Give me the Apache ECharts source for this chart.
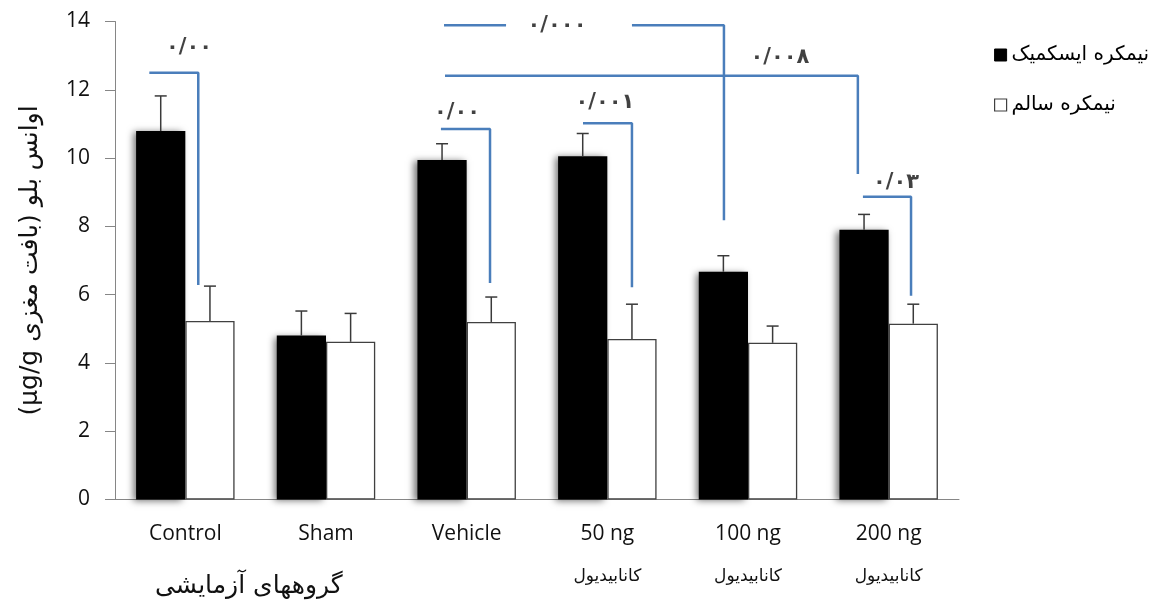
<!DOCTYPE html>
<html>
<head>
<meta charset="utf-8">
<script src="https://cdn.jsdelivr.net/npm/echarts@6/dist/echarts.min.js"></script>
<style>html,body{margin:0;padding:0;background:#fff;}#c{width:1160px;height:604px;}</style>
</head>
<body>
<div id="c"></div>
<script>
const categories = ['Control', 'Sham', 'Vehicle', '50 ng', '100 ng', '200 ng'];
const subLabels = ['', '', '', 'کانابیدیول', 'کانابیدیول', 'کانابیدیول'];
const seriesNames = ['نیمکره ایسکمیک', 'نیمکره سالم'];
const ischemic = [10.79, 4.80, 9.94, 10.05, 6.67, 7.90];
const ischemicErr = [1.03, 0.72, 0.48, 0.67, 0.47, 0.45];
const healthy = [5.23, 4.62, 5.20, 4.70, 4.59, 5.15];
const healthyErr = [1.02, 0.83, 0.73, 1.02, 0.49, 0.57];
const yTicks = [0, 2, 4, 6, 8, 10, 12, 14];
const yAxisTitle = 'اوانس بلو (بافت مغزی µg/g)';
const xAxisTitle = 'گروههای آزمایشی';
// significance brackets, in (category position, value) units
const bracketPaths = [
  [[0.244, 12.50], [0.592, 12.50], [0.592, 6.28]],
  [[2.317, 10.85], [2.666, 10.85], [2.666, 6.34]],
  [[3.327, 11.02], [3.675, 11.02], [3.675, 6.22]],
  [[5.317, 8.87], [5.659, 8.87], [5.659, 5.97]],
  [[2.339, 13.89], [2.780, 13.89]],
  [[3.675, 13.89], [4.329, 13.89], [4.329, 8.18]],
  [[2.346, 12.41], [5.281, 12.41], [5.281, 9.53]]
];
const pLabels = ['۰/۰۰', '۰/۰۰', '۰/۰۰۱', '۰/۰۳', '۰/۰۰۰', '۰/۰۰۸'];
const pLabelPos = [[0.526, 13.25], [2.431, 11.32], [3.483, 11.62], [5.552, 9.27], [3.142, 13.89], [4.727, 12.93]];

const chart = echarts.init(document.getElementById('c'), null, {renderer: 'canvas'});
const LATIN = '"Open Sans", "DejaVu Sans", sans-serif';
const ARABIC = '"DejaVu Sans", sans-serif';

function errSeries(vals, errs, sign) {
  return {
    type: 'custom',
    xAxisIndex: 0, yAxisIndex: 0,
    z: 5,
    silent: true,
    data: vals.map((v, i) => [i, v, v + errs[i]]),
    renderItem: function (params, api) {
      const band = api.size([1, 0])[0];
      const off = sign * 0.175 * band;
      const p0 = api.coord([api.value(0), api.value(1)]);
      const p1 = api.coord([api.value(0), api.value(2)]);
      const x = p0[0] + off;
      const st = {stroke: '#3a3a3a', lineWidth: 1.5};
      return {
        type: 'group',
        children: [
          {type: 'line', shape: {x1: x, y1: p0[1], x2: x, y2: p1[1]}, style: st},
          {type: 'line', shape: {x1: x - 6, y1: p1[1], x2: x + 6, y2: p1[1]}, style: st}
        ]
      };
    }
  };
}

const bracketSeries = bracketPaths.map(p => ({
  type: 'line',
  xAxisIndex: 1, yAxisIndex: 0,
  data: p,
  symbol: 'none',
  silent: true,
  z: 6,
  lineStyle: {color: '#4a7ebb', width: 2.5},
  animation: false
}));

const option = {
  animation: false,
  backgroundColor: '#ffffff',
  grid: {left: 115, right: 201, top: 21.5, bottom: 104.5},
  legend: {
    data: [
      {name: seriesNames[0], icon: 'rect', itemStyle: {color: '#000', borderColor: '#000', borderWidth: 1}},
      {name: seriesNames[1], icon: 'rect', itemStyle: {color: '#fff', borderColor: '#404040', borderWidth: 1.2}}
    ],
    orient: 'vertical',
    left: 989, top: 38,
    itemWidth: 12, itemHeight: 12,
    itemGap: 26,
    textStyle: {fontFamily: ARABIC, fontSize: 20, color: '#000', lineHeight: 24},
    selectedMode: false
  },
  xAxis: [
    {
      type: 'category',
      data: categories,
      axisLine: {lineStyle: {color: '#868686', width: 1}},
      axisTick: {show: false},
      axisLabel: {
        margin: 17,
        formatter: function (v, i) {
          return subLabels[i] ? '{a|' + v + '}\n{b|' + subLabels[i] + '}' : '{a|' + v + '}';
        },
        rich: {
          a: {fontFamily: LATIN, fontSize: 21, color: '#111', lineHeight: 36},
          b: {fontFamily: ARABIC, fontSize: 17, color: '#111', lineHeight: 48}
        }
      }
    },
    {type: 'value', min: 0, max: 6, show: false}
  ],
  yAxis: {
    type: 'value',
    min: 0, max: 14, interval: 2,
    name: '\u202B' + yAxisTitle + '\u202C',
    nameLocation: 'middle',
    nameGap: 72,
    nameRotate: 90,
    nameTextStyle: {fontFamily: ARABIC, fontSize: 25, color: '#111'},
    axisLine: {show: true, lineStyle: {color: '#868686', width: 1}},
    axisTick: {show: true, inside: false, length: 10, lineStyle: {color: '#868686'}},
    splitLine: {show: false},
    axisLabel: {
      margin: 25,
      fontFamily: LATIN, fontSize: 21, color: '#111',
      formatter: v => yTicks.indexOf(v) >= 0 ? String(v) : ''
    }
  },
  graphic: [
    {type: 'text', left: 155, top: 574, style: {text: xAxisTitle, font: '25px "DejaVu Sans", sans-serif', fill: '#111'}}
  ],
  series: [
    {
      name: seriesNames[0], type: 'bar', data: ischemic,
      barGap: '0%', barCategoryGap: '30%',
      itemStyle: {color: '#000', shadowBlur: 7, shadowColor: 'rgba(0,0,0,0.55)', shadowOffsetX: -3, shadowOffsetY: 1},
      z: 3
    },
    {
      name: seriesNames[1], type: 'bar', data: healthy,
      barGap: '0%', barCategoryGap: '30%',
      itemStyle: {color: '#fff', borderColor: '#404040', borderWidth: 1.3},
      z: 4
    },
    errSeries(ischemic, ischemicErr, -1),
    errSeries(healthy, healthyErr, 1),
    ...bracketSeries,
    {
      type: 'scatter',
      xAxisIndex: 1, yAxisIndex: 0,
      symbolSize: 0,
      silent: true,
      z: 7,
      data: pLabels.map((t, i) => ({name: t, value: pLabelPos[i]})),
      label: {
        show: true, position: 'inside',
        formatter: p => p.name,
        fontFamily: ARABIC, fontSize: 21, fontWeight: 'bold', color: '#111'
      }
    }
  ]
};
chart.setOption(option);
</script>
</body>
</html>
